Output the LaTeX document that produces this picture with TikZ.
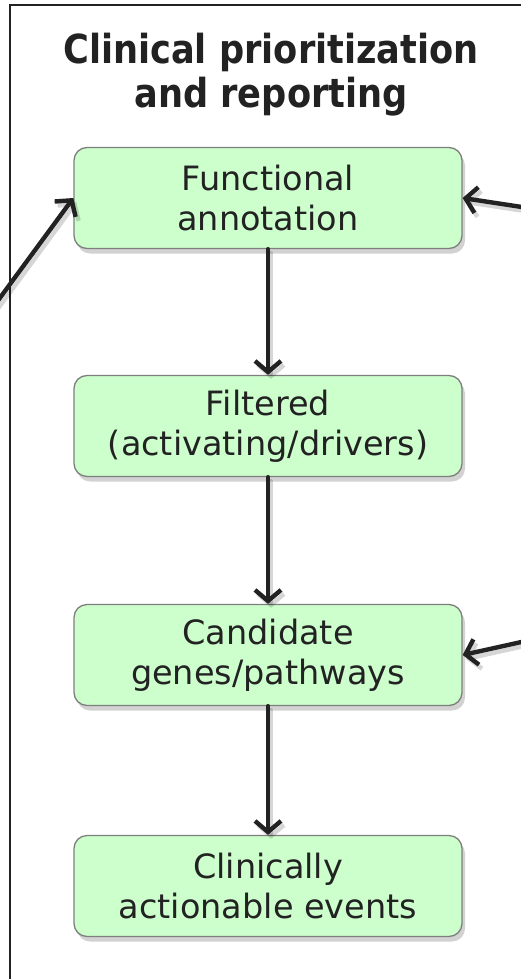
\documentclass[tikz,border=0pt]{standalone}
\usepackage{fontspec}
\setmainfont{DejaVu Sans}
\usetikzlibrary{arrows.meta,shadows}
\definecolor{boxgreen}{HTML}{CCFFCC}
\definecolor{boxline}{HTML}{7F7F7F}
\definecolor{inkdark}{HTML}{222222}
\begin{document}
\begin{tikzpicture}[x=1pt,y=-1pt,
  stepbox/.style={draw=boxline, line width=1.3pt, fill=boxgreen, rounded corners=13pt,
    minimum width=388pt, minimum height=101pt, align=center, text=inkdark,
    font=\fontsize{33.5}{40}\selectfont,
    drop shadow={shadow xshift=3pt, shadow yshift=-5pt, opacity=0.35}},
  titletext/.style={font=\bfseries\fontsize{40}{48}\selectfont, text=inkdark, anchor=base},
  flow/.style={line width=4.4pt, draw=inkdark, line cap=round,
    -{Straight Barb[length=11pt,width=26pt,line width=4.4pt]}},
  flowshadow/.style={line width=4.4pt, draw=black, opacity=0.16, line cap=round,
    -{Straight Barb[length=11pt,width=26pt,line width=4.4pt]}}]
\useasboundingbox (0,0) rectangle (521,979);
\clip (0,0) rectangle (521,979);
\fill[white] (0,0) rectangle (521,979);
% frame
\fill[black, opacity=0.12] (13,9) rectangle (540,1000);
\draw[line width=1.8pt, draw=inkdark, fill=white] (10,5) rectangle (540,1000);
% title
\node[titletext] (title1) at (271,64) {\scalebox{0.88}[1]{Clinical prioritization}};
\node[titletext] (title2) at (271,108) {\scalebox{0.88}[1]{and reporting}};
% boxes
\node[stepbox] (fa) at (268,198) {Functional\\annotation};
\node[stepbox] (fi) at (268,426) {Filtered\\(activating/drivers)};
\node[stepbox] (cg) at (268,655) {Candidate\\genes/pathways};
\node[stepbox] (ca) at (268,886) {Clinically\\actionable events};
% outside connectors
\coordinate (inL) at (-6,306);
\coordinate (inR1) at (535,209);
\coordinate (inR2) at (535,639);
\begin{scope}[transform canvas={xshift=3pt,yshift=-4pt}]
\draw[flowshadow] (fa) -- (fi);
\draw[flowshadow] (fi) -- (cg);
\draw[flowshadow] (cg) -- (ca);
\draw[flowshadow] (inL) -- (fa.west);
\draw[flowshadow] (inR1) -- (fa.east);
\draw[flowshadow] (inR2) -- (cg.east);
\end{scope}
\draw[flow] (fa) -- (fi);
\draw[flow] (fi) -- (cg);
\draw[flow] (cg) -- (ca);
\draw[flow] (inL) -- (fa.west);
\draw[flow] (inR1) -- (fa.east);
\draw[flow] (inR2) -- (cg.east);
\end{tikzpicture}
\end{document}
